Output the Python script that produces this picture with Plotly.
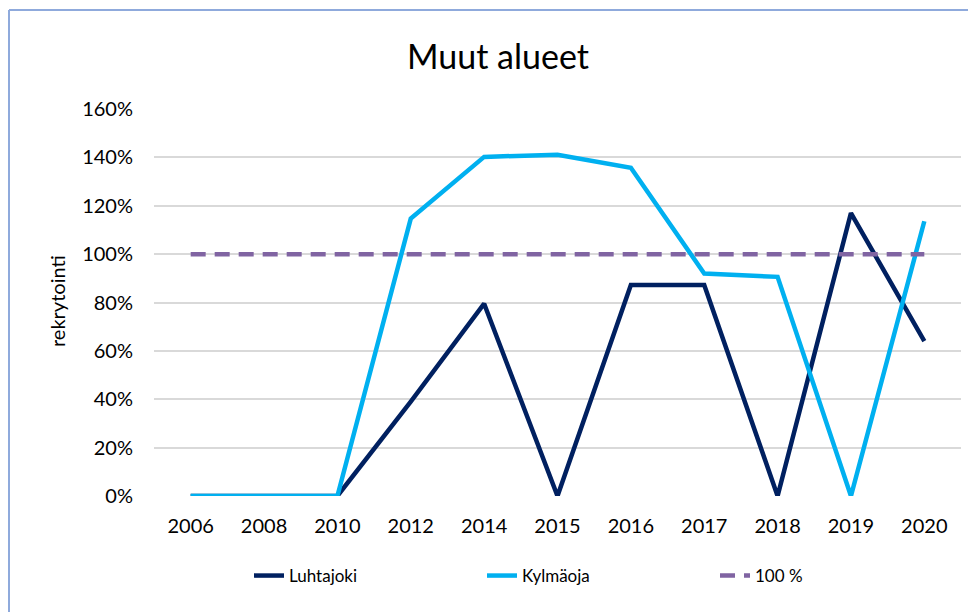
import plotly.graph_objects as go

years = ["2006", "2008", "2010", "2012", "2014", "2015", "2016", "2017", "2018", "2019", "2020"]
luhtajoki = [0, 0, 0, 0.39, 0.795, 0, 0.872, 0.872, 0, 1.17, 0.64]
kylmaoja = [0, 0, 0, 1.147, 1.402, 1.411, 1.357, 0.92, 0.906, 0, 1.136]
target = [1.0] * len(years)

W, H = 976, 612
OFF = 8  # page body margin offset
# plot area in page pixels
PL, PR, PT, PB = 154, 961, 109, 496
L, T = PL - OFF, PT - OFF
R, B = W - (PR - OFF), H - (PB - OFF)
pw, ph = W - L - R, H - T - B

def px(x):
    return (x - OFF - L) / pw

def py(y):
    return (H - B - (y - OFF)) / ph

fig = go.Figure()
fig.add_trace(go.Scatter(x=years, y=luhtajoki, name="Luhtajoki", mode="lines",
                         line=dict(color="#002060", width=4.5)))
fig.add_trace(go.Scatter(x=years, y=kylmaoja, name="Kylmäoja", mode="lines",
                         line=dict(color="#00B0F0", width=4.5)))
fig.add_trace(go.Scatter(x=years, y=target, name="100 %", mode="lines",
                         line=dict(color="#8064A2", width=4.5, dash="15px,9px")))

font_family = "Lato, 'Open Sans', sans-serif"

fig.update_layout(
    width=W, height=H,
    margin=dict(l=L, r=R, t=T, b=B, pad=0, autoexpand=False),
    paper_bgcolor="white", plot_bgcolor="white",
    font=dict(family=font_family, size=20, color="#000000"),
    title=dict(text="Muut alueet", x=(498 - OFF) / W, xref="container", xanchor="center",
               y=1 - (57 - OFF) / H, yref="container", yanchor="middle",
               font=dict(size=34, color="#000000", family=font_family)),
    showlegend=True,
    legend=dict(orientation="h", x=px(249), xanchor="left",
                y=py(576), yanchor="middle", entrywidth=188, entrywidthmode="pixels",
                font=dict(size=17, color="#000000"), bgcolor="rgba(0,0,0,0)"),
    xaxis=dict(type="category", range=[-0.5, len(years) - 0.5], showgrid=False,
               zeroline=False, showline=False, ticks="",
               tickfont=dict(size=20, color="#000000"), ticklabelstandoff=16,
               tickangle=0, automargin=False),
    yaxis=dict(range=[0, 1.6], dtick=0.2, tickformat=".0%", showgrid=True,
               gridcolor="#D9D9D9", gridwidth=1.5, zeroline=False, showline=False,
               ticks="", tickfont=dict(size=20, color="#000000"), ticklabelstandoff=20,
               automargin=False),
)

fig.add_annotation(text="rekrytointi", xref="paper", yref="paper",
                   x=px(57), y=py(301), textangle=-90, showarrow=False,
                   font=dict(size=20, color="#000000"), xanchor="center", yanchor="middle")

# chart border (left and top visible)
fig.add_shape(type="line", xref="paper", yref="paper", x0=px(9), x1=px(9), y0=py(10), y1=py(640),
              line=dict(color="#8FAADC", width=2))
fig.add_shape(type="line", xref="paper", yref="paper", x0=px(9), x1=px(1000), y0=py(10), y1=py(10),
              line=dict(color="#8FAADC", width=2))

fig.write_html("out.html")
